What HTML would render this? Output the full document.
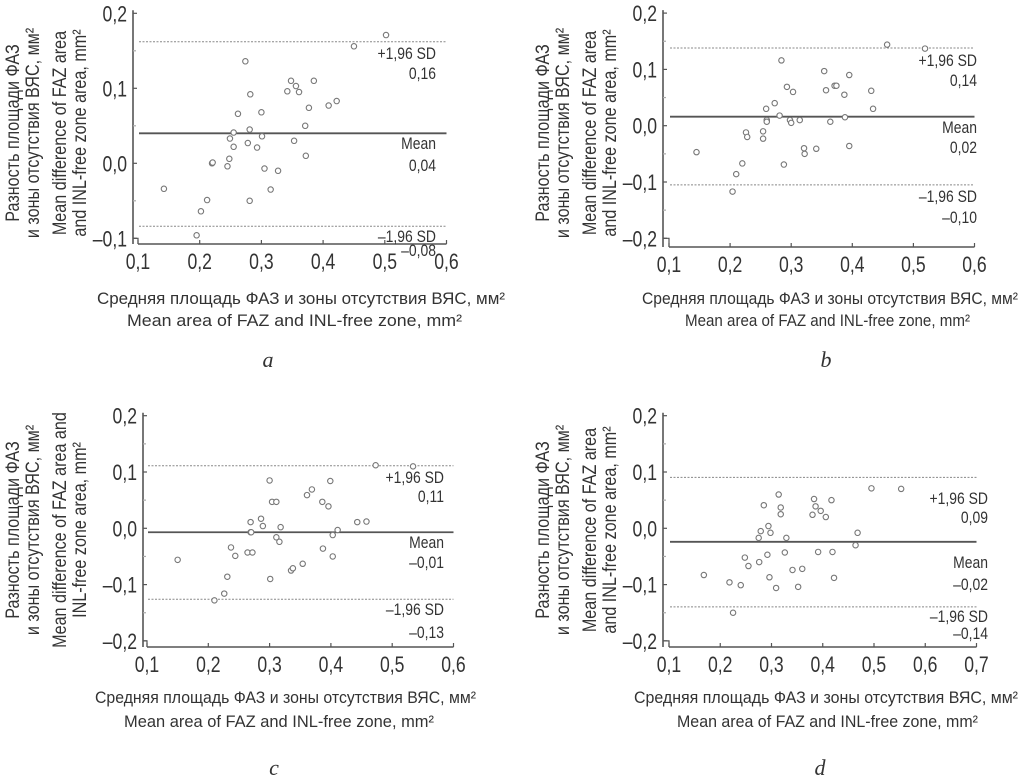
<!DOCTYPE html>
<html><head><meta charset="utf-8"><style>
html,body{margin:0;padding:0;background:#fff;}
svg{display:block;}
</style></head><body>
<svg id="fig" width="1024" height="775" viewBox="0 0 1024 775" xmlns="http://www.w3.org/2000/svg" font-family="'Liberation Sans', 'Noto Sans CJK SC', sans-serif" fill="#333"></svg>
<script>
// ---- Panel a data ----
const aX = [0.142,0.195,0.202,0.212,0.220,0.221,0.245,0.248,0.249,0.255,0.255,0.262,0.274,0.278,0.281,0.281,0.282,0.293,0.300,0.301,0.305,0.315,0.327,0.342,0.348,0.353,0.356,0.361,0.371,0.372,0.377,0.385,0.409,0.422,0.450,0.502];
const aY = [-0.034,-0.096,-0.064,-0.049,0.000,0.001,-0.004,0.006,0.033,0.041,0.022,0.066,0.136,0.027,0.045,-0.050,0.092,0.021,0.068,0.036,-0.007,-0.035,-0.010,0.096,0.110,0.030,0.103,0.095,0.050,0.010,0.074,0.110,0.077,0.083,0.156,0.171];
const aLines = [0.162,0.040,-0.084];
// ---- Panel b data ----
const bX = [0.145,0.204,0.210,0.220,0.226,0.228,0.254,0.254,0.259,0.260,0.260,0.273,0.281,0.284,0.288,0.293,0.298,0.300,0.303,0.314,0.321,0.322,0.341,0.354,0.357,0.364,0.371,0.374,0.387,0.388,0.395,0.395,0.431,0.434,0.457,0.519];
const bY = [-0.047,-0.117,-0.086,-0.067,-0.012,-0.020,-0.010,-0.023,0.030,0.010,0.007,0.040,0.018,0.116,-0.069,0.069,0.010,0.005,0.060,0.010,-0.040,-0.050,-0.041,0.097,0.063,0.007,0.071,0.071,0.055,0.015,0.090,-0.036,0.062,0.030,0.144,0.137];
const bLines = [0.138,0.016,-0.105];
// ---- Panel c data ----
const cX = [0.150,0.210,0.226,0.231,0.237,0.244,0.264,0.269,0.269,0.270,0.272,0.286,0.289,0.300,0.301,0.304,0.311,0.311,0.316,0.318,0.335,0.338,0.354,0.361,0.369,0.386,0.387,0.396,0.399,0.403,0.403,0.411,0.443,0.458,0.473,0.534];
const cY = [-0.056,-0.128,-0.116,-0.086,-0.034,-0.049,-0.043,0.011,-0.007,-0.007,-0.043,0.017,0.004,0.085,-0.090,0.047,0.047,-0.016,-0.024,0.002,-0.075,-0.071,-0.063,0.059,0.069,0.047,-0.036,0.039,0.084,-0.012,-0.050,-0.003,0.011,0.012,0.112,0.110];
const cLines = [0.111,-0.007,-0.126];
// ---- Panel d data ----
const dX = [0.168,0.218,0.225,0.240,0.248,0.255,0.275,0.276,0.279,0.285,0.292,0.294,0.296,0.298,0.309,0.314,0.318,0.318,0.326,0.329,0.341,0.352,0.360,0.380,0.383,0.386,0.391,0.396,0.406,0.417,0.419,0.422,0.464,0.468,0.495,0.553];
const dY = [-0.083,-0.096,-0.150,-0.101,-0.052,-0.067,-0.017,-0.060,-0.005,0.041,-0.047,0.004,-0.087,-0.008,-0.106,0.060,0.037,0.025,-0.043,-0.017,-0.074,-0.104,-0.072,0.024,0.052,0.039,-0.042,0.031,0.020,0.050,-0.042,-0.088,-0.030,-0.008,0.071,0.070];
const dLines = [0.0905,-0.024,-0.1396];

const yTicks = [0.2,0.1,0.0,-0.1,-0.2];
const xTicks6 = [0.1,0.2,0.3,0.4,0.5,0.6];
const xTicks7 = [0.1,0.2,0.3,0.4,0.5,0.6,0.7];
const lineLabels = ['+1,96 SD','Mean','–1,96 SD'];
const aVals = ['0,16','0,04','–0,08'];
const bVals = ['0,14','0,02','–0,10'];
const cVals = ['0,11','–0,01','–0,13'];
const dVals = ['0,09','–0,02','–0,14'];

const NS='http://www.w3.org/2000/svg';
const svg=document.getElementById('fig');
function mk(tag,attrs,parent){const e=document.createElementNS(NS,tag);for(const k in attrs)e.setAttribute(k,attrs[k]);(parent||svg).appendChild(e);return e;}
function fmt(v){return (v<0?'–':'')+Math.abs(v).toFixed(1).replace('.',',');}
function ntext(parent,x,y,str,size,anchor,sx){
  const t=mk('text',{transform:`translate(${x},${y}) scale(${sx||0.82},1)`,'font-size':size,'text-anchor':anchor||'start',fill:'#333'},parent);
  t.textContent=str;return t;
}

function panel(p){
  const g=mk('g',{});
  
  
  const X=v=>p.x0+(v-0.1)*p.px;
  const Y=v=>p.y0-v*p.py;
  const yMin=p.yMin;
  const axY=p.axY, axX=p.axX;
  const ax=mk('g',{stroke:'#555','stroke-width':1.6,fill:'none'},g);
  
  
  mk('line',{x1:axX,y1:Y(0.2)-3,x2:axX,y2:axY},ax);
  mk('line',{x1:X(0.1),y1:axY,x2:X(p.xMax),y2:axY},ax);
  mk('polyline',{points:`${axX},${Y(yMin)} ${X(0.1)},${Y(yMin)} ${X(0.1)},${axY}`,'stroke-width':1.2},ax);
  for(let v=0.2;v>=yMin-0.001;v-=0.05){
    const major=Math.abs(Math.round(v*100)%10)===0;
    mk('line',{x1:axX,y1:Y(v),x2:axX+(major?4:3),y2:Y(v),stroke:major?'#555':'#aaa','stroke-width':1.2},g);
  }
  yTicks.forEach(v=>{ if(v<yMin-0.001) return;
    const t=ntext(g,axX-6,Y(v)+8,fmt(v),22,'end',0.8);
    
    
  });
  p.xt.forEach(v=>{
    mk('line',{x1:X(v),y1:axY,x2:X(v),y2:axY-4,stroke:'#555','stroke-width':1.2},g);
    const t=ntext(g,X(v),axY+25,fmt(v),22,'middle',0.8);
    
    
  });
  p.lines.forEach((v,i)=>{
    const l=mk('line',{x1:X(0.1)+1,y1:Y(v),x2:X(p.xMax),y2:Y(v),stroke:i===1?'#555':'#888','stroke-width':i===1?1.8:1,'stroke-dasharray':i===1?'none':'2,1.5'},g);
    
    
  });
  p.lab.forEach((ly,i)=>{
    const t1=ntext(g,p.labX,ly[0],lineLabels[i],17,'end');
    
    
    const t2=ntext(g,p.labX,ly[1],p.vals[i],17,'end');
    
    
  });
  p.xs.forEach((xv,i)=>{
    const c=mk('circle',{cx:X(xv),cy:Y(p.ys[i]),r:2.7,fill:'#fff',stroke:'#777','stroke-width':1.1},g);
    
    
  });
  p.yt.forEach(([x,str])=>{
    const t=mk('text',{transform:`translate(${x},${p.ytc}) rotate(-90) scale(0.85,1)`,'font-size':19,'text-anchor':'middle',fill:'#333'},g);
    t.textContent=str;
    
    
  });
  p.xtl.forEach(([x1,x2,y,str])=>{
    const t=mk('text',{x:x1,y:y,'font-size':17,textLength:x2-x1,lengthAdjust:'spacingAndGlyphs',fill:'#333'},g);
    t.textContent=str;
    
    
  });
  const L=mk('text',{x:p.letter[0],y:p.letter[1],'font-size':22,'font-style':'italic','font-family':"'Liberation Serif', serif",'text-anchor':'middle',fill:'#333'},g);
  L.textContent=p.letter[2];
  
  
}
const ruX='Средняя площадь ФАЗ и зоны отсутствия ВЯС, мм²';
const enX='Mean area of FAZ and INL-free zone, mm²';
panel({name:'panel-a',x0:138,px:617,y0:163.3,py:750,yMin:-0.1,axX:133,axY:244,xMax:0.6,xt:xTicks6,
  lines:aLines,vals:aVals,xs:aX,ys:aY,labX:436,lab:[[59,79],[149,171],[242,256]],
  yt:[[19,'Разность площади ФАЗ'],[39,'и зоны отсутствия ВЯС, мм²'],[66,'Mean difference of FAZ area'],[86,'and INL-free zone area, mm²']],ytc:133,
  xtl:[[97,505,304,ruX],[127,462,326,enX]],letter:[268,367,'a']});
panel({name:'panel-b',x0:669,px:611,y0:125.7,py:563,yMin:-0.2,axX:663,axY:247,xMax:0.6,xt:xTicks6,
  lines:bLines,vals:bVals,xs:bX,ys:bY,labX:977,lab:[[66,86],[133,153],[202,223]],
  yt:[[549,'Разность площади ФАЗ'],[569,'и зоны отсутствия ВЯС, мм²'],[596,'Mean difference of FAZ area'],[616,'and INL-free zone area, mm²']],ytc:133,
  xtl:[[642,1018,304,ruX],[685,970,326,enX]],letter:[826,367,'b']});
panel({name:'panel-c',x0:147,px:613,y0:528.3,py:563,yMin:-0.2,axX:143,axY:647,xMax:0.6,xt:xTicks6,
  lines:cLines,vals:cVals,xs:cX,ys:cY,labX:444,lab:[[483,502],[548,568],[615,638]],
  yt:[[19,'Разность площади ФАЗ'],[39,'и зоны отсутствия ВЯС, мм²'],[66,'Mean difference of FAZ area and'],[86,'INL-free zone area, mm²']],ytc:530,
  xtl:[[95,476,703,ruX],[124,434,727,enX]],letter:[274,775,'c']});
panel({name:'panel-d',x0:669,px:512.5,y0:528.3,py:563,yMin:-0.2,axX:663,axY:647,xMax:0.7,xt:xTicks7,
  lines:dLines,vals:dVals,xs:dX,ys:dY,labX:988,lab:[[504,523],[568,590],[622,639]],
  yt:[[549,'Разность площади ФАЗ'],[569,'и зоны отсутствия ВЯС, мм²'],[596,'Mean difference of FAZ area'],[616,'and INL-free zone area, mm²']],ytc:530,
  xtl:[[634,1018,703,ruX],[677,978,727,enX]],letter:[820,775,'d']});
</script>
</body></html>
